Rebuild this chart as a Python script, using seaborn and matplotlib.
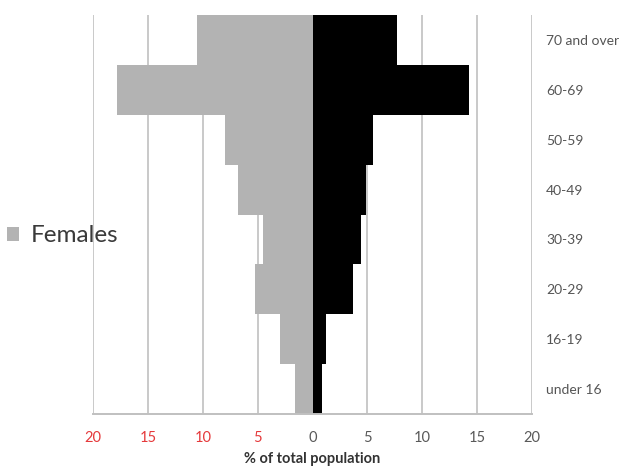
import matplotlib
matplotlib.use("Agg")
import matplotlib.pyplot as plt
import seaborn as sns
import pandas as pd

# Age bands, top to bottom
age_groups = ["70 and over", "60-69", "50-59", "40-49", "30-39", "20-29", "16-19", "under 16"]
# Share of total population (%)
females = [10.5, 17.8, 8.0, 6.8, 4.5, 5.2, 3.0, 1.6]
males = [7.7, 14.3, 5.5, 4.9, 4.4, 3.7, 1.2, 0.9]
x_ticks = [-20, -15, -10, -5, 0, 5, 10, 15, 20]

sns.set_theme(style="white")
plt.rcParams["font.family"] = ["Lato", "DejaVu Sans"]

df = pd.DataFrame({
    "age": age_groups * 2,
    "pct": [-v for v in females] + males,
    "sex": ["Females"] * len(age_groups) + ["Males"] * len(age_groups),
})

fig = plt.figure(figsize=(6.23, 4.68), dpi=100)
ax = fig.add_axes([93 / 623, 1 - 414 / 468, (532 - 93) / 623, (414 - 15) / 468])

sns.barplot(
    data=df, x="pct", y="age", hue="sex", order=age_groups,
    hue_order=["Females", "Males"], orient="h", dodge=False, width=1.0,
    palette={"Females": "#b3b3b3", "Males": "#000000"},
    linewidth=0, saturation=1, ax=ax, legend=True,
)

ax.set_xlim(-20, 20)
ax.set_ylim(len(age_groups) - 0.5, -0.5)
ax.set_xticks(x_ticks)
ax.set_xticklabels([str(abs(t)) for t in x_ticks])
for lbl, t in zip(ax.get_xticklabels(), x_ticks):
    lbl.set_color("#e5393b" if t < 0 else "#595959")
    lbl.set_fontsize(10.5)

ax.xaxis.grid(True, color="#c9c9c9", linewidth=1.4)
ax.yaxis.grid(False)
ax.set_axisbelow(True)

for side in ["top", "left", "right"]:
    ax.spines[side].set_visible(False)
ax.spines["bottom"].set_color("#c0c0c0")
ax.spines["bottom"].set_linewidth(1.4)
ax.tick_params(axis="x", direction="out", length=4, width=1.4, color="#c0c0c0", pad=8)

ax.yaxis.tick_right()
ax.tick_params(axis="y", length=0, pad=10, labelsize=10, labelcolor="#555555")

ax.set_ylabel("")
ax.set_xlabel("% of total population", fontsize=10.5, fontweight="bold", color="#333333", labelpad=5)

handles, labels = ax.get_legend_handles_labels()
ax.get_legend().remove()
keep = [i for i, l in enumerate(labels) if l == "Females"]
fig.legend(
    [handles[i] for i in keep], [labels[i] for i in keep],
    loc="center left", bbox_to_anchor=(0.0, 1 - 236 / 468), frameon=False,
    fontsize=17.5, handlelength=0.5, handleheight=0.5, handletextpad=0.45,
    labelcolor="#3a3a3a", borderaxespad=0.0, borderpad=0.3,
)

fig.savefig("out.png", dpi=100)
